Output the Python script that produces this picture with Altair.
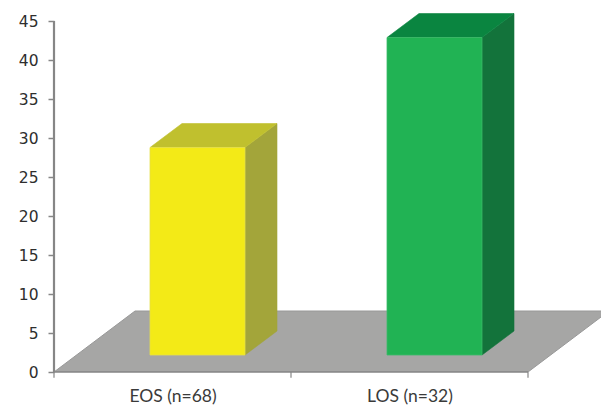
import altair as alt
import pandas as pd

# Chart values
categories = ["EOS (n=68)", "LOS (n=32)"]
values = [26.6, 40.7]
front_colors = ["#F3EA17", "#21B354"]
top_colors = ["#C0C02E", "#0A8540"]
side_colors = ["#A3A53A", "#13733B"]
edge_colors = ["#E6E04A", "#3DBA6A"]

y_ticks = [0, 5, 10, 15, 20, 25, 30, 35, 40, 45]

# Pseudo-3D geometry, in axis units (one category = 1 on x)
PX_X = 237.0
PX_Y = 7.8
X_MAX = 547 / PX_X
Y_MAX = 372 / PX_Y
BAR_START = 96 / PX_X
BAR_WIDTH = 95 / PX_X
BAR_DX = 32 / PX_X
BAR_DY = 24 / PX_Y
BASE = 17 / PX_Y
FLOOR_DX = 81 / PX_X
FLOOR_DY = 61 / PX_Y

x_scale = alt.Scale(domain=[0, X_MAX], nice=False, zero=False)
y_scale = alt.Scale(domain=[0, Y_MAX], nice=False, zero=False)

fronts, sides, tops = [], [], []
for i, (cat, val) in enumerate(zip(categories, values)):
    x0 = i + BAR_START
    x1 = x0 + BAR_WIDTH
    top = BASE + val
    fronts.append(dict(cat=cat, x=x0, x2=x1, y=BASE, y2=top))
    sides += [
        dict(cat=cat, x=x1, y=BASE, y2=top),
        dict(cat=cat, x=x1 + BAR_DX, y=BASE + BAR_DY, y2=top + BAR_DY),
    ]
    tops += [
        dict(cat=cat, y=top, x=x0, x2=x1),
        dict(cat=cat, y=top + BAR_DY, x=x0 + BAR_DX, x2=x1 + BAR_DX),
    ]

floor = pd.DataFrame([
    dict(y=0, x=0, x2=2),
    dict(y=FLOOR_DY, x=FLOOR_DX, x2=2 + FLOOR_DX),
])


def color_scale(colors):
    return alt.Scale(domain=categories, range=colors)


label_expr = f"datum.value < 1 ? '{categories[0]}' : '{categories[1]}'"

x_enc = alt.X("x:Q", scale=x_scale, title=None, axis=alt.Axis(
    values=[0.5, 1.5], labelExpr=label_expr, grid=False, domain=False, ticks=False,
    labelFont="Lato", labelFontSize=17.5, labelColor="#3A3A3A", labelPadding=15,
    labelAngle=0,
))
y_enc = alt.Y("y:Q", scale=y_scale, title=None, axis=alt.Axis(
    values=y_ticks, grid=False, domain=False, tickColor="#868686", tickSize=6,
    tickWidth=1.5, labelFont="DejaVu Sans", labelFontSize=15.5, labelColor="#2E2E2E",
    labelPadding=10, format="d",
))

floor_layer = alt.Chart(floor).mark_area(
    orient="horizontal", color="#A6A6A5", stroke="#989898", strokeWidth=1, clip=True
).encode(x=x_enc, x2="x2:Q", y=y_enc)

axis_rules = pd.DataFrame([
    dict(x=0, x2=0, y=0, y2=45, w=2.2),
    dict(x=0, x2=2, y=0, y2=0, w=1.5),
    dict(x=0, x2=0, y=0, y2=-0.75, w=1.2),
    dict(x=1, x2=1, y=0, y2=-0.75, w=1.2),
    dict(x=2, x2=2, y=0, y2=-0.75, w=1.2),
])
rules_layer = alt.Chart(axis_rules).mark_rule(color="#868686").encode(
    x=x_enc,
    x2="x2:Q",
    y=y_enc,
    y2="y2:Q",
    strokeWidth=alt.StrokeWidth("w:Q", scale=None),
)

side_layer = alt.Chart(pd.DataFrame(sides)).mark_area(orient="vertical", strokeWidth=0.6).encode(
    x=x_enc,
    y=y_enc,
    y2="y2:Q",
    fill=alt.Fill("cat:N", scale=color_scale(side_colors), legend=None),
    stroke=alt.Stroke("cat:N", scale=color_scale(side_colors), legend=None),
)

top_layer = alt.Chart(pd.DataFrame(tops)).mark_area(orient="horizontal", strokeWidth=0.6).encode(
    x=x_enc,
    x2="x2:Q",
    y=y_enc,
    fill=alt.Fill("cat:N", scale=color_scale(top_colors), legend=None),
    stroke=alt.Stroke("cat:N", scale=color_scale(top_colors), legend=None),
)

front_layer = alt.Chart(pd.DataFrame(fronts)).mark_rect(strokeWidth=0.8).encode(
    x=x_enc,
    x2="x2:Q",
    y=y_enc,
    y2="y2:Q",
    fill=alt.Fill("cat:N", scale=color_scale(front_colors), legend=None),
    stroke=alt.Stroke("cat:N", scale=color_scale(edge_colors), legend=None),
)

chart = alt.layer(floor_layer, rules_layer, side_layer, top_layer, front_layer).resolve_scale(
    fill="independent", stroke="independent"
).properties(
    width=547, height=372,
    padding={"left": 54, "top": 0, "right": 0, "bottom": 34},
    autosize=alt.AutoSizeParams(type="none"),
    background="white",
).configure_view(stroke=None)

chart.save("out.html", embed_options={"renderer": "svg", "actions": False})
